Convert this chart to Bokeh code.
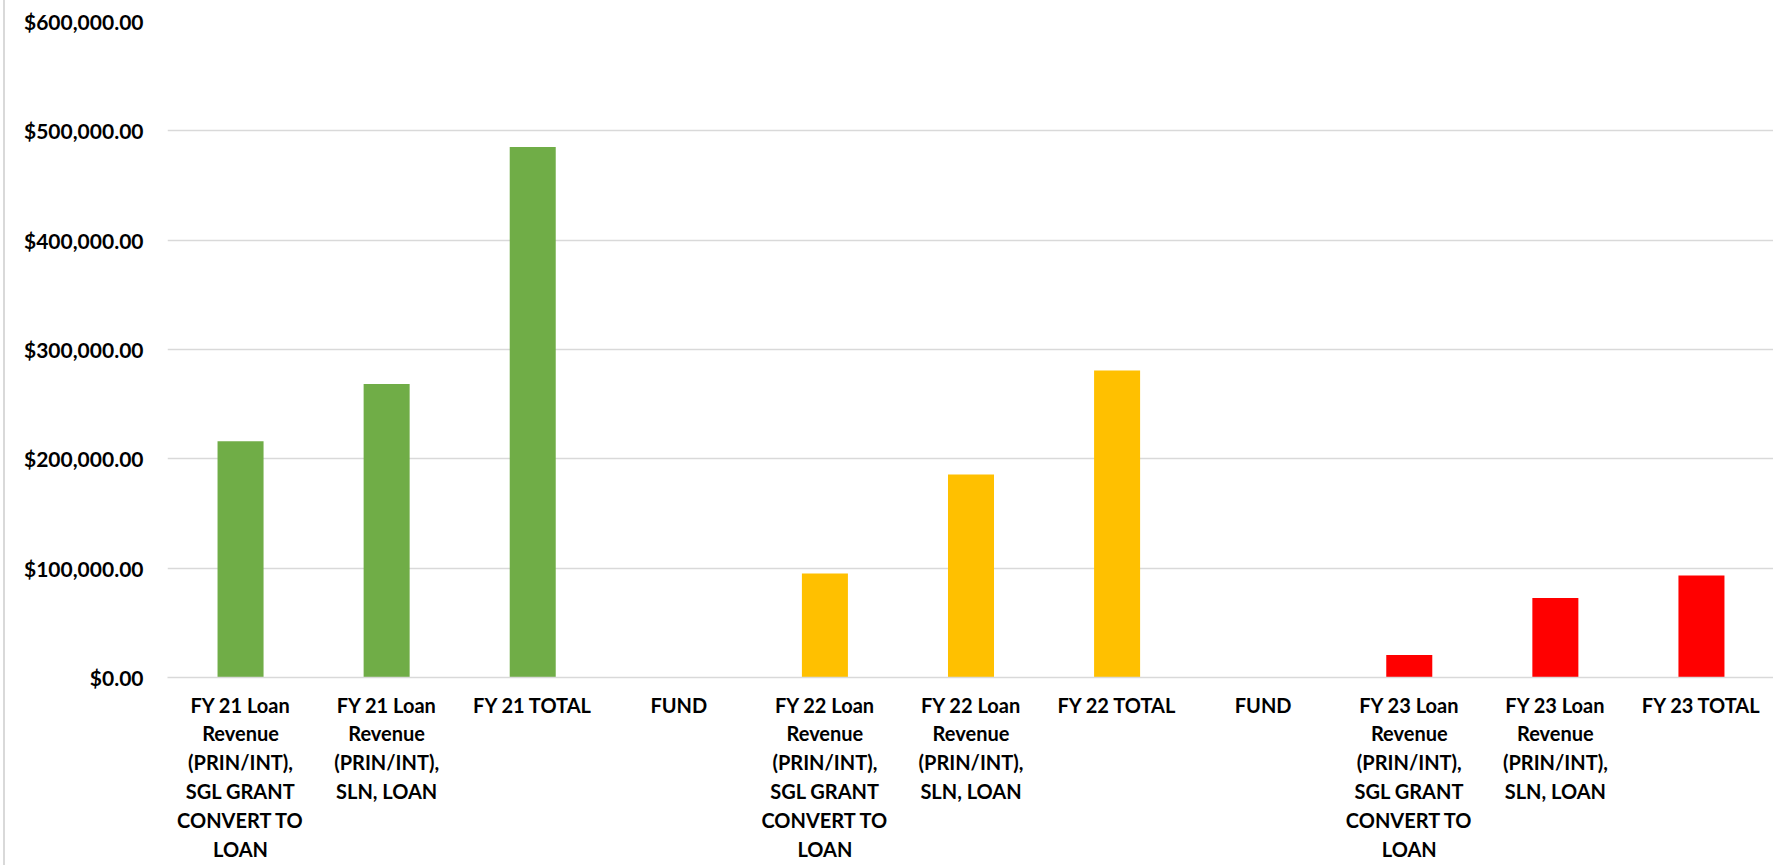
from bokeh.plotting import figure
from bokeh.models import Range1d, FixedTicker, NumeralTickFormatter, ColumnDataSource
from bokeh.embed import file_html
from bokeh.resources import INLINE

categories = [
    "FY 21 Loan\nRevenue\n(PRIN/INT),\nSGL GRANT\nCONVERT TO\nLOAN",
    "FY 21 Loan\nRevenue\n(PRIN/INT),\nSLN, LOAN",
    "FY 21 TOTAL",
    "FUND",
    "FY 22 Loan\nRevenue\n(PRIN/INT),\nSGL GRANT\nCONVERT TO\nLOAN",
    "FY 22 Loan\nRevenue\n(PRIN/INT),\nSLN, LOAN",
    "FY 22 TOTAL",
    "FUND",
    "FY 23 Loan\nRevenue\n(PRIN/INT),\nSGL GRANT\nCONVERT TO\nLOAN",
    "FY 23 Loan\nRevenue\n(PRIN/INT),\nSLN, LOAN",
    "FY 23 TOTAL",
]
values = [216000, 268500, 485200, 0, 95100, 185700, 280800, 0, 20500, 72700, 93300]
bar_colors = ["#70AD47", "#70AD47", "#70AD47", "#70AD47",
              "#FFC000", "#FFC000", "#FFC000", "#FFC000",
              "#FF0000", "#FF0000", "#FF0000"]
y_ticks = [0, 100000, 200000, 300000, 400000, 500000, 600000]

xs = list(range(len(categories)))
source = ColumnDataSource(dict(x=xs, top=values, color=bar_colors))

p = figure(
    width=1770, height=865,
    output_backend="svg", toolbar_location=None,
    x_range=Range1d(-0.5, len(categories) - 0.5),
    y_range=Range1d(0, 600000),
    min_border_left=162, min_border_right=1, min_border_top=21, min_border_bottom=188,
)
p.styles = {"border-left": "2px solid #d9d9d9", "margin-left": "3px"}
p.outline_line_color = None
p.background_fill_color = "white"
p.border_fill_color = "white"

p.vbar(x="x", top="top", bottom=0, width=0.315, fill_color="color", line_color=None, source=source)

# y axis
p.yaxis.ticker = FixedTicker(ticks=y_ticks)
p.yaxis.formatter = NumeralTickFormatter(format="$0,0.00")
p.yaxis.axis_line_color = None
p.yaxis.major_tick_line_color = None
p.yaxis.minor_tick_line_color = None
p.yaxis.major_tick_out = 0
p.yaxis.major_label_standoff = 24
p.yaxis.major_label_text_font = "Lato"
p.yaxis.major_label_text_font_style = "bold"
p.yaxis.major_label_text_font_size = "21px"
p.yaxis.major_label_text_color = "#000000"

# x axis
p.xaxis.ticker = FixedTicker(ticks=xs)
p.xaxis.major_label_overrides = {i: c for i, c in zip(xs, categories)}
p.xaxis.axis_line_color = "#d9d9d9"
p.xaxis.axis_line_width = 1.5
p.xaxis.major_tick_line_color = None
p.xaxis.minor_tick_line_color = None
p.xaxis.major_tick_out = 0
p.xaxis.major_label_standoff = 15
p.xaxis.major_label_text_font = "Lato"
p.xaxis.major_label_text_font_style = "bold"
p.xaxis.major_label_text_font_size = "20px"
p.xaxis.major_label_text_line_height = 1.2
p.xaxis.major_label_text_color = "#000000"
p.xaxis.major_label_orientation = "horizontal"

p.xgrid.grid_line_color = None
p.ygrid.ticker = FixedTicker(ticks=y_ticks)
p.ygrid.grid_line_color = "#d9d9d9"
p.ygrid.grid_line_width = 1.5

open("out.html", "w").write(file_html(p, INLINE))
